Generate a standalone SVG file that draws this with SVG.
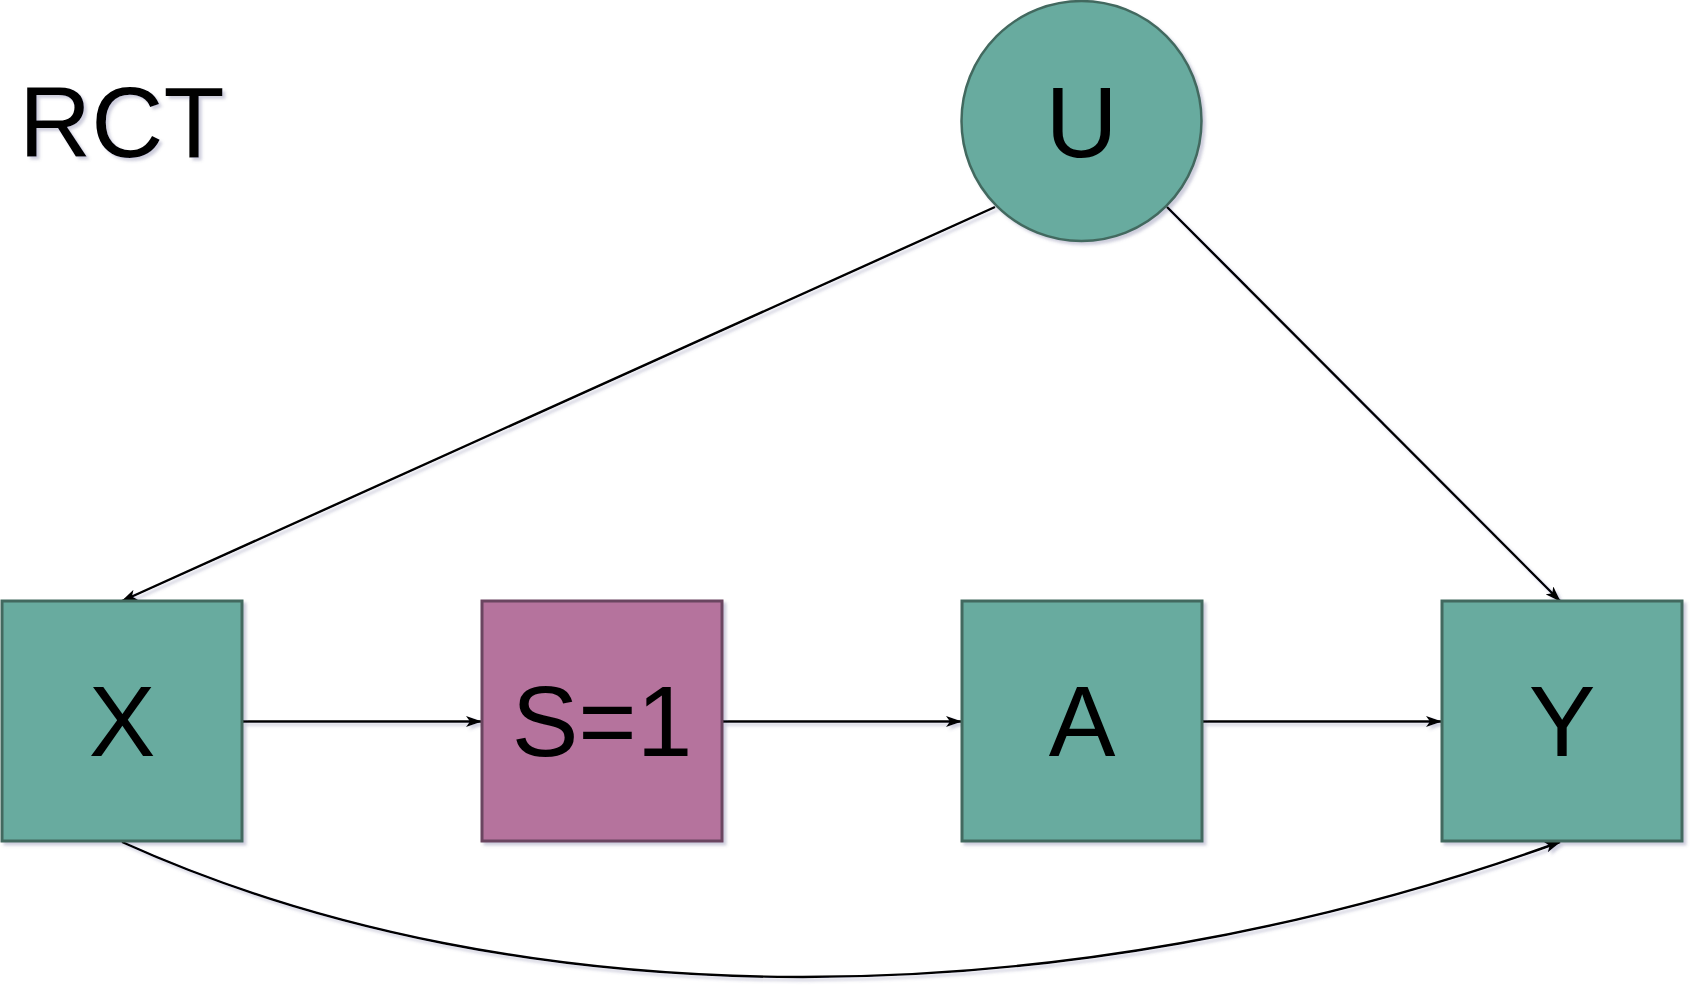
<svg xmlns="http://www.w3.org/2000/svg" width="1694" height="990" viewBox="0 0 1694 990">
  <style>
    .teal { fill: #67ab9f; stroke: #43695f; stroke-width: 3; }
    .mauve { fill: #b5739d; stroke: #6b4460; stroke-width: 3; }
    .lbl { font-family: "Liberation Sans", Arial, Helvetica, sans-serif; font-size: 100px; fill: #000; text-anchor: middle; }
    .edge { fill: none; stroke: #000; stroke-width: 2.4; marker-end: url(#arrow); }
  </style>
  <defs>
    <filter id="shadow" x="-10%" y="-10%" width="130%" height="130%">
      <feDropShadow dx="3" dy="3" stdDeviation="1.6" flood-color="#5a5a8c" flood-opacity="0.3"/>
    </filter>
    <marker id="arrow" viewBox="0 0 16 11" refX="15" refY="5.5" markerWidth="16" markerHeight="11" markerUnits="userSpaceOnUse" orient="auto">
      <path d="M0,0 L16,5.5 L0,11 L4,5.5 z" fill="#000"/>
    </marker>
  </defs>

  <rect width="1694" height="990" fill="#fff"/>

  <g filter="url(#shadow)">
    <!-- title -->
    <text id="title" class="lbl" x="19" y="157" style="text-anchor:start">RCT</text>

    <!-- connectors -->
    <g id="edges">
      <line class="edge" x1="995" y1="207" x2="122" y2="601"/>
      <line class="edge" x1="1167" y1="207" x2="1560" y2="601"/>
      <line class="edge" x1="242" y1="721.5" x2="481" y2="721.5"/>
      <line class="edge" x1="722" y1="721.5" x2="961" y2="721.5"/>
      <line class="edge" x1="1202" y1="721.5" x2="1441" y2="721.5"/>
      <path class="edge" d="M122,842 C520,1022 1060,1022 1560,842"/>
    </g>

    <!-- nodes -->
    <g id="node-u">
      <circle class="teal" cx="1081.5" cy="121" r="120" style="stroke-width:2.5"/>
      <text class="lbl" x="1081.5" y="157">U</text>
    </g>
    <g id="node-x">
      <rect class="teal" x="2" y="601" width="240" height="240"/>
      <text class="lbl" x="122" y="756">X</text>
    </g>
    <g id="node-s">
      <rect class="mauve" x="482" y="601" width="240" height="240"/>
      <text class="lbl" x="602" y="756">S=1</text>
    </g>
    <g id="node-a">
      <rect class="teal" x="962" y="601" width="240" height="240"/>
      <text class="lbl" x="1082" y="756">A</text>
    </g>
    <g id="node-y">
      <rect class="teal" x="1442" y="601" width="240" height="240"/>
      <text class="lbl" x="1562" y="756">Y</text>
    </g>
  </g>
</svg>
